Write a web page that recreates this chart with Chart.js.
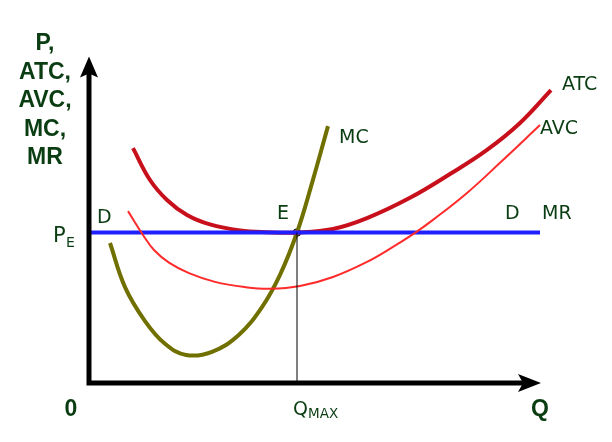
<!DOCTYPE html>
<html>
<head>
<meta charset="utf-8">
<script src="https://cdn.jsdelivr.net/npm/chart.js@4/dist/chart.umd.min.js"></script>
<style>
  html, body { margin: 0; padding: 0; background: #fff; }
  canvas { display: block; }
</style>
</head>
<body>
<canvas id="costChart" width="612" height="442"></canvas>
<script>
// Curvas de custo (Q, P)
const atcPoints = [
  [8.8, 67.1], [12.2, 58.0], [15.6, 52.3], [19.6, 48.0], [24.2, 45.3],
  [30.2, 43.6], [35.6, 43.1], [41.6, 43.0], [48.8, 44.0], [55.6, 47.1],
  [64.2, 52.9], [72.2, 59.7], [79.6, 66.6], [86.2, 74.3], [92.4, 83.7]
];
const avcPoints = [
  [7.8, 49.1], [10.8, 42.3], [13.0, 38.0], [16.0, 34.4], [20.0, 31.4], [25.2, 28.9],
  [31.2, 27.4], [36.2, 26.9], [42.2, 27.7], [48.8, 30.3], [55.6, 34.6],
  [60.8, 38.9], [65.2, 42.9], [68.8, 46.6], [75.6, 54.3], [82.2, 62.9], [90.2, 73.7]
];
const mcPoints = [
  [4.2, 40.0], [7.2, 27.4], [11.2, 17.7], [15.2, 11.2], [19.4, 8.0],
  [24.6, 8.9], [30.0, 13.8], [34.6, 21.7], [38.2, 30.9], [41.6, 43.0],
  [44.6, 57.1], [47.8, 73.4]
];
// Preço de equilíbrio e quantidade
const priceE = 43;
const qMax = 41.6;
const mrRange = [0, 90.2];

const toXY = arr => arr.map(p => ({ x: p[0], y: p[1] }));

const textColor = '#0b3d12';

// Eixos com setas e rótulos
const diagramPlugin = {
  id: 'diagram',
  afterDatasetsDraw(chart) {
    const ctx = chart.ctx;
    const xs = chart.scales.x, ys = chart.scales.y;
    const x0 = xs.getPixelForValue(0), y0 = ys.getPixelForValue(0);
    const xTip = xs.getPixelForValue(90.4), yTip = ys.getPixelForValue(93.3);
    ctx.save();
    ctx.strokeStyle = '#000';
    ctx.fillStyle = '#000';
    ctx.lineWidth = 5;
    ctx.lineCap = 'butt';
    ctx.beginPath();
    ctx.moveTo(x0, y0 + 2.5);
    ctx.lineTo(x0, yTip + 12);
    ctx.moveTo(x0 - 2.5, y0);
    ctx.lineTo(xTip - 12, y0);
    ctx.stroke();
    // seta vertical
    ctx.beginPath();
    ctx.moveTo(x0, yTip);
    ctx.lineTo(x0 + 9, yTip + 21);
    ctx.lineTo(x0, yTip + 17);
    ctx.lineTo(x0 - 9, yTip + 21);
    ctx.closePath();
    ctx.fill();
    // seta horizontal
    ctx.beginPath();
    ctx.moveTo(xTip, y0);
    ctx.lineTo(xTip - 23, y0 - 9);
    ctx.lineTo(xTip - 18, y0);
    ctx.lineTo(xTip - 23, y0 + 9);
    ctx.closePath();
    ctx.fill();

    // título do eixo Y
    ctx.fillStyle = textColor;
    ctx.font = 'bold 23px "Liberation Sans", Arial, sans-serif';
    ctx.textAlign = 'center';
    ctx.textBaseline = 'alphabetic';
    ['P,', 'ATC,', 'AVC,', 'MC,', 'MR'].forEach((t, i) => {
      ctx.fillText(t, 45, 50 + i * 28.5);
    });
    ctx.fillText('0', 71, 416);
    ctx.fillText('Q', 540, 416);

    // rótulos das curvas
    ctx.textAlign = 'left';
    ctx.font = '19px "DejaVu Sans", Verdana, sans-serif';
    ctx.fillText('ATC', 562, 90);
    ctx.fillText('AVC', 540, 134);
    ctx.fillText('MC', 339, 143);
    ctx.fillText('D', 505, 219);
    ctx.fillText('MR', 542, 219);
    ctx.fillText('D', 97, 223);
    ctx.fillText('E', 277, 219);

    const pe = ys.getPixelForValue(priceE);
    ctx.font = '21px "DejaVu Sans", Verdana, sans-serif';
    ctx.fillText('P', 53, pe + 9);
    ctx.font = '14px "DejaVu Sans", Verdana, sans-serif';
    ctx.fillText('E', 66, pe + 14);

    const qx = xs.getPixelForValue(qMax);
    ctx.font = '19px "DejaVu Sans", Verdana, sans-serif';
    ctx.fillText('Q', qx - 4, 415);
    ctx.font = '13.5px "DejaVu Sans", Verdana, sans-serif';
    ctx.fillText('MAX', qx + 11, 418);
    ctx.restore();
  }
};

function createCostChart() {
  const ctx = document.getElementById('costChart').getContext('2d');
  new Chart(ctx, {
    type: 'scatter',
    data: {
      datasets: [
        {
          label: 'Qmax',
          data: [{ x: qMax, y: 0 }, { x: qMax, y: priceE }],
          showLine: true,
          borderColor: '#000',
          borderWidth: 1,
          pointRadius: 0
        },
        {
          label: 'AVC',
          data: toXY(avcPoints),
          showLine: true,
          tension: 0.4,
          borderColor: '#ff2b2b',
          borderWidth: 2,
          pointRadius: 0
        },
        {
          label: 'D = MR',
          data: [{ x: mrRange[0], y: priceE }, { x: mrRange[1], y: priceE }],
          showLine: true,
          borderColor: '#1f1fff',
          borderWidth: 4,
          pointRadius: 0
        },
        {
          label: 'ATC',
          data: toXY(atcPoints),
          showLine: true,
          tension: 0.4,
          borderColor: '#c8101c',
          borderWidth: 4,
          pointRadius: 0
        },
        {
          label: 'MC',
          data: toXY(mcPoints),
          showLine: true,
          tension: 0.4,
          borderColor: '#707000',
          borderWidth: 4,
          pointRadius: 0
        },
        {
          label: 'E',
          data: [{ x: qMax, y: priceE }],
          pointRadius: 3.5,
          pointBackgroundColor: '#fff',
          pointBorderColor: '#000',
          pointBorderWidth: 1.2
        }
      ]
    },
    options: {
      responsive: false,
      animation: false,
      layout: { padding: { left: 89, right: 23, top: 33, bottom: 59 } },
      scales: {
        x: { type: 'linear', min: 0, max: 100, display: false },
        y: { type: 'linear', min: 0, max: 100, display: false }
      },
      plugins: {
        legend: { display: false },
        tooltip: { enabled: false }
      },
      clip: false
    },
    plugins: [diagramPlugin]
  });
}

createCostChart();
</script>
</body>
</html>
